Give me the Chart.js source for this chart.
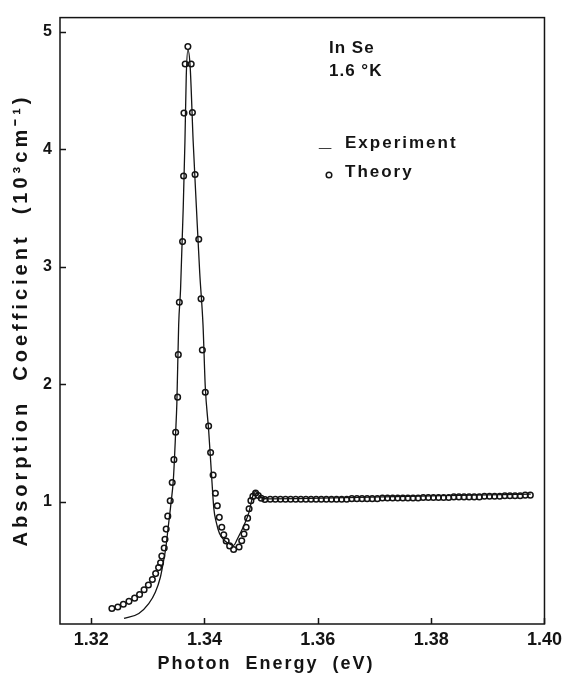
<!DOCTYPE html>
<html>
<head>
<meta charset="utf-8">
<script src="https://cdn.jsdelivr.net/npm/chart.js@4.4.1/dist/chart.umd.min.js"></script>
<style>
  html, body { margin: 0; padding: 0; background: #fff; }
</style>
</head>
<body>
<canvas id="chart" width="567" height="680"></canvas>
<script>
// InSe absorption at 1.6 K: experiment (line) vs theory (circles)
const xTicks = [1.32, 1.34, 1.36, 1.38, 1.40]
const yTicks = [1, 2, 3, 4, 5]

const expEnergy = [1.32580, 1.32841, 1.33016, 1.33132, 1.33220, 1.33277, 1.33317, 1.33364, 1.33411, 1.33451,
  1.33491, 1.33512, 1.33544, 1.33578, 1.33625, 1.33655, 1.33678, 1.33707, 1.33747, 1.33800,
  1.33857, 1.33916, 1.33974, 1.34014, 1.34073, 1.34118, 1.34165, 1.34206, 1.34265, 1.34352,
  1.34467, 1.34514, 1.34584, 1.34700, 1.34787, 1.34833, 1.34875, 1.34909, 1.34990, 1.35109,
  1.35629, 1.36500, 1.37371, 1.38242, 1.39758]
const expAbs = [0.005, 0.048, 0.131, 0.228, 0.354, 0.494, 0.605, 0.801, 0.996, 1.191,
  1.590, 1.833, 2.502, 2.812, 3.506, 4.067, 4.619, 4.845, 4.703, 4.067,
  3.506, 2.946, 2.502, 1.975, 1.609, 1.274, 0.940, 0.828, 0.728, 0.669,
  0.633, 0.628, 0.686, 0.801, 0.912, 1.010, 1.079, 1.085, 1.038, 1.023,
  1.025, 1.033, 1.042, 1.050, 1.063]

const theoryEnergy = [1.32366, 1.32470, 1.32568, 1.32667, 1.32767, 1.32854, 1.32934, 1.33010, 1.33080, 1.33138,
  1.33190, 1.33225, 1.33247, 1.33289, 1.33303, 1.33324, 1.33352, 1.33395, 1.33430, 1.33460,
  1.33491, 1.33526, 1.33538, 1.33556, 1.33613, 1.33631, 1.33638, 1.33660, 1.33707, 1.33765,
  1.33787, 1.33834, 1.33899, 1.33939, 1.33962, 1.34014, 1.34073, 1.34108, 1.34152, 1.34192,
  1.34226, 1.34261, 1.34305, 1.34340, 1.34383, 1.34444, 1.34514, 1.34610, 1.34657, 1.34697,
  1.34735, 1.34761, 1.34787, 1.34819, 1.34854, 1.34902, 1.34949, 1.35002, 1.35066,
  1.3516, 1.3525, 1.3534, 1.3543, 1.3552, 1.3561, 1.3570, 1.3579, 1.3588, 1.3597,
  1.3606, 1.3615, 1.3624, 1.3633, 1.3642, 1.3651, 1.3660, 1.3669, 1.3678, 1.3687,
  1.3696, 1.3705, 1.3714, 1.3723, 1.3732, 1.3741, 1.3750, 1.3759, 1.3768, 1.3777,
  1.3786, 1.3795, 1.3804, 1.3813, 1.3822, 1.3831, 1.3840, 1.3849, 1.3858, 1.3867,
  1.3876, 1.3885, 1.3894, 1.3903, 1.3912, 1.3921, 1.3930, 1.3939, 1.3948, 1.3957,
  1.3966, 1.3975]
const theoryAbs = [0.090, 0.103, 0.126, 0.151, 0.178, 0.209, 0.249, 0.290, 0.337, 0.387,
  0.438, 0.479, 0.536, 0.605, 0.680, 0.766, 0.876, 1.007, 1.163, 1.357,
  1.590, 1.889, 2.251, 2.697, 3.213, 3.772, 4.307, 4.725, 4.873, 4.725,
  4.312, 3.785, 3.233, 2.726, 2.290, 1.931, 1.643, 1.418, 1.226, 1.071,
  0.964, 0.866, 0.782, 0.717, 0.665, 0.623, 0.592, 0.613, 0.667, 0.724,
  0.781, 0.859, 0.939, 1.008, 1.044, 1.073, 1.052, 1.028, 1.018,
  1.02, 1.02, 1.02, 1.02, 1.02, 1.02, 1.02, 1.02, 1.02, 1.02,
  1.02, 1.02, 1.02, 1.02, 1.02, 1.02, 1.025, 1.025, 1.025, 1.025,
  1.025, 1.025, 1.03, 1.03, 1.03, 1.03, 1.03, 1.03, 1.03, 1.03,
  1.035, 1.035, 1.035, 1.035, 1.035, 1.035, 1.04, 1.04, 1.04, 1.04,
  1.04, 1.04, 1.045, 1.045, 1.045, 1.045, 1.05, 1.05, 1.05, 1.05,
  1.055, 1.055]

const ink = '#141414'
const face = '"Liberation Sans", Arial, sans-serif'

const zip = (xs, ys) => xs.map((v, i) => ({ x: v, y: ys[i] }))

const decor = {
  id: 'decor',
  afterDraw(chart) {
    const { ctx, chartArea: a, scales: { x, y } } = chart
    ctx.save()
    ctx.strokeStyle = ink
    ctx.lineWidth = 1.5
    ctx.strokeRect(a.left, a.top, a.right - a.left, a.bottom - a.top)

    // inward tick marks
    ctx.beginPath()
    xTicks.forEach(v => {
      const px = Math.round(x.getPixelForValue(v)) + 0.5
      ctx.moveTo(px, a.bottom)
      ctx.lineTo(px, a.bottom - 6)
    })
    yTicks.forEach(v => {
      const py = Math.round(y.getPixelForValue(v)) + 0.5
      ctx.moveTo(a.left, py)
      ctx.lineTo(a.left + 6, py)
    })
    ctx.stroke()

    ctx.fillStyle = ink
    ctx.textBaseline = 'middle'
    ctx.font = 'bold 17px ' + face
    ctx.letterSpacing = '1px'
    ctx.textAlign = 'left'
    ctx.fillText('In Se', 329, 48)
    ctx.fillText('1.6 °K', 329, 71)

    ctx.letterSpacing = '2px'
    ctx.fillText('Experiment', 345, 143)
    ctx.fillText('Theory', 345, 172)
    ctx.font = 'bold 22px ' + face
    ctx.letterSpacing = '0px'
    ctx.fillText('_', 319, 140)
    ctx.lineWidth = 1.5
    ctx.beginPath()
    ctx.arc(329, 175, 2.8, 0, Math.PI * 2)
    ctx.stroke()

    // axis titles
    ctx.textAlign = 'center'
    ctx.font = 'bold 18px ' + face
    ctx.letterSpacing = '2px'
    ctx.fillText('Photon  Energy  (eV)', 266, 664)

    ctx.translate(21, 320)
    ctx.rotate(-Math.PI / 2)
    ctx.font = 'bold 20px ' + face
    ctx.letterSpacing = '4px'
    ctx.fillText('Absorption  Coefficient  (10³cm⁻¹)', 0, 0)
    ctx.restore()
  }
}

new Chart(document.getElementById('chart'), {
  type: 'scatter',
  data: {
    datasets: [
      {
        label: 'Experiment',
        data: zip(expEnergy, expAbs),
        showLine: true,
        borderColor: ink,
        borderWidth: 1.3,
        pointRadius: 0,
        cubicInterpolationMode: 'monotone'
      },
      {
        label: 'Theory',
        data: zip(theoryEnergy, theoryAbs),
        showLine: false,
        pointRadius: 2.8,
        pointBorderWidth: 1.5,
        borderColor: ink,
        backgroundColor: 'rgba(255,255,255,0)'
      }
    ]
  },
  options: {
    responsive: false,
    animation: false,
    devicePixelRatio: 1,
    layout: { padding: { top: 7, right: 16, left: 0, bottom: 0 } },
    plugins: { legend: { display: false }, tooltip: { enabled: false } },
    scales: {
      x: {
        type: 'linear',
        min: 1.3145,
        max: 1.40,
        afterFit: s => { s.height = 56 },
        afterBuildTicks: s => { s.ticks = xTicks.map(v => ({ value: v })) },
        grid: { display: false, drawTicks: false },
        border: { display: false },
        ticks: {
          color: ink,
          padding: 5,
          maxRotation: 0,
          font: { family: face, size: 18, weight: 'bold' },
          callback: v => v.toFixed(2)
        }
      },
      y: {
        type: 'linear',
        min: -0.042,
        max: 5.12,
        afterFit: s => { s.width = 60 },
        afterBuildTicks: s => { s.ticks = yTicks.map(v => ({ value: v })) },
        grid: { display: false, drawTicks: false },
        border: { display: false },
        ticks: {
          color: ink,
          padding: 8,
          font: { family: face, size: 16, weight: 'bold' },
          callback: v => String(v)
        }
      }
    }
  },
  plugins: [decor]
})
</script>
</body>
</html>
